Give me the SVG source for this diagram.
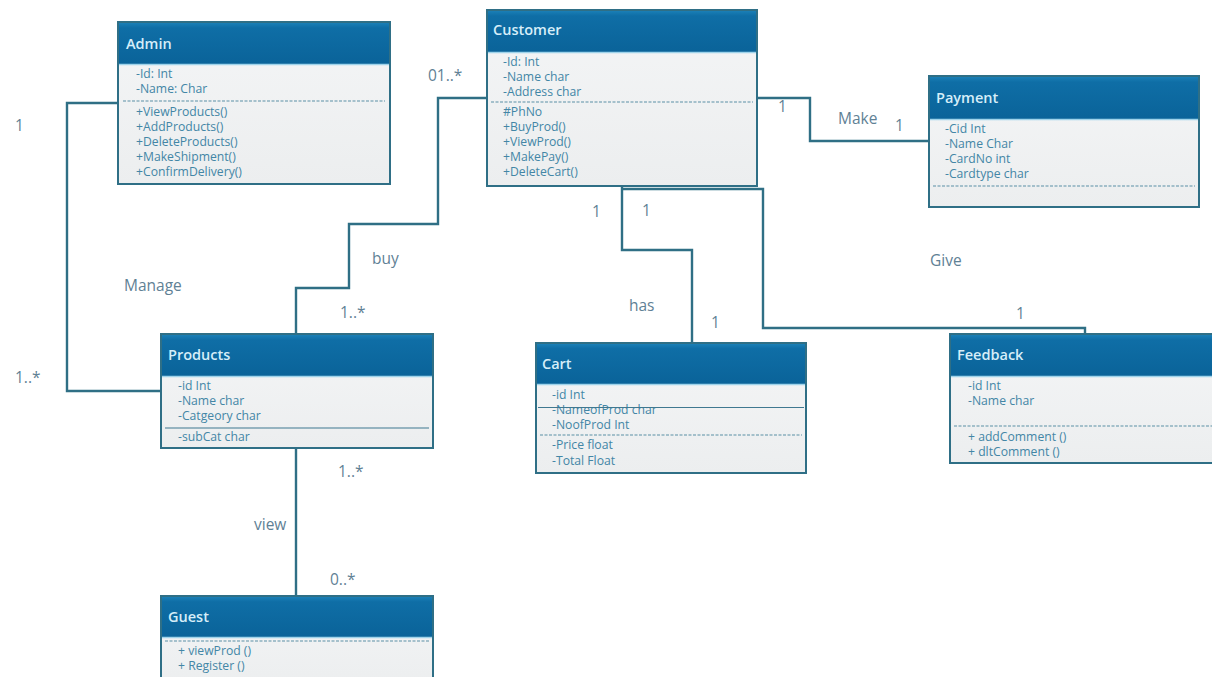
<svg xmlns="http://www.w3.org/2000/svg" width="1212" height="677" viewBox="0 0 1212 677">
  <defs>
    <linearGradient id="hdr" x1="0" y1="0" x2="0" y2="1">
      <stop offset="0" stop-color="#1a7fb6"/>
      <stop offset="0.12" stop-color="#0f6ea6"/>
      <stop offset="1" stop-color="#0a6399"/>
    </linearGradient>
    <linearGradient id="bdy" x1="0" y1="0" x2="0" y2="1">
      <stop offset="0" stop-color="#f4f5f6"/>
      <stop offset="1" stop-color="#eceeef"/>
    </linearGradient>
  </defs>
  <style>
    .box { fill: url(#bdy); stroke: #2f6f86; stroke-width: 2; }
    .head { fill: url(#hdr); }
    .hline { stroke: #9fd3ea; stroke-width: 1.5; }
    .title { font-family: "Open Sans", "Liberation Sans", sans-serif; font-size: 14.5px; font-weight: 600; fill: #d6eef9; }
    .item { font-family: "Open Sans", "Liberation Sans", sans-serif; font-size: 12.2px; fill: #4386a6; }
    .dash { stroke: #5b8fa5; stroke-width: 1.2; stroke-dasharray: 3 1.5; }
    .solid { stroke: #3f7890; stroke-width: 1.2; }
    .conn { fill: none; stroke: #2f6f85; stroke-width: 2.4; }
    .lbl { font-family: "Open Sans", "Liberation Sans", sans-serif; font-size: 15.5px; fill: #5f8195; }
  </style>

  <!-- associations -->
  <g id="connectors">
    <path class="conn" d="M118 103 H67 V391 H161"/>
    <path class="conn" d="M487 98 H438 V224 H349 V288 H296 V334"/>
    <path class="conn" d="M757 98 H810 V141 H929"/>
    <path class="conn" d="M622 186 V250 H692 V343"/>
    <path class="conn" d="M622 189 H763 V328 H1085 V334"/>
    <path class="conn" d="M296 448 V596"/>
  </g>

  <g id="labels">
    <text class="lbl" x="15" y="131">1</text>
    <text class="lbl" x="15" y="383">1..*</text>
    <text class="lbl" x="124" y="291">Manage</text>
    <text class="lbl" x="428" y="81">01..*</text>
    <text class="lbl" x="372" y="264">buy</text>
    <text class="lbl" x="340" y="318">1..*</text>
    <text class="lbl" x="778" y="112">1</text>
    <text class="lbl" x="838" y="124">Make</text>
    <text class="lbl" x="895" y="131">1</text>
    <text class="lbl" x="592" y="217">1</text>
    <text class="lbl" x="642" y="216">1</text>
    <text class="lbl" x="629" y="311">has</text>
    <text class="lbl" x="711" y="328">1</text>
    <text class="lbl" x="930" y="266">Give</text>
    <text class="lbl" x="1016" y="319">1</text>
    <text class="lbl" x="338" y="477">1..*</text>
    <text class="lbl" x="254" y="530">view</text>
    <text class="lbl" x="330" y="585">0..*</text>
  </g>

  <g id="admin">
    <rect class="box" x="118" y="22" width="272" height="162"/>
    <rect class="head" x="119" y="23" width="270" height="41"/>
    <line class="hline" x1="119" y1="64.5" x2="389" y2="64.5"/>
    <text class="title" x="126" y="49">Admin</text>
    <text class="item" x="136" y="78">-Id: Int</text>
    <text class="item" x="136" y="93">-Name: Char</text>
    <line class="dash" x1="123" y1="101" x2="385" y2="101"/>
    <text class="item" x="136" y="116">+ViewProducts()</text>
    <text class="item" x="136" y="131">+AddProducts()</text>
    <text class="item" x="136" y="146">+DeleteProducts()</text>
    <text class="item" x="136" y="161">+MakeShipment()</text>
    <text class="item" x="136" y="176">+ConfirmDelivery()</text>
  </g>

  <g id="customer">
    <rect class="box" x="487" y="10" width="270" height="176"/>
    <rect class="head" x="488" y="11" width="268" height="41"/>
    <line class="hline" x1="488" y1="52.5" x2="756" y2="52.5"/>
    <text class="title" x="493" y="35">Customer</text>
    <text class="item" x="503" y="66">-Id: Int</text>
    <text class="item" x="503" y="81">-Name char</text>
    <text class="item" x="503" y="96">-Address char</text>
    <line class="dash" x1="491" y1="102" x2="753" y2="102"/>
    <text class="item" x="503" y="116">#PhNo</text>
    <text class="item" x="503" y="131">+BuyProd()</text>
    <text class="item" x="503" y="146">+ViewProd()</text>
    <text class="item" x="503" y="161">+MakePay()</text>
    <text class="item" x="503" y="176">+DeleteCart()</text>
  </g>

  <g id="payment">
    <rect class="box" x="929" y="76" width="270" height="131"/>
    <rect class="head" x="930" y="77" width="268" height="42"/>
    <line class="hline" x1="930" y1="119.5" x2="1198" y2="119.5"/>
    <text class="title" x="936" y="103">Payment</text>
    <text class="item" x="945" y="133">-Cid Int</text>
    <text class="item" x="945" y="148">-Name Char</text>
    <text class="item" x="945" y="163">-CardNo int</text>
    <text class="item" x="945" y="178">-Cardtype char</text>
    <line class="dash" x1="933" y1="186" x2="1195" y2="186"/>
  </g>

  <g id="products">
    <rect class="box" x="161" y="334" width="272" height="114"/>
    <rect class="head" x="162" y="335" width="270" height="41"/>
    <line class="hline" x1="162" y1="376.5" x2="432" y2="376.5"/>
    <text class="title" x="168" y="360">Products</text>
    <text class="item" x="178" y="390">-id Int</text>
    <text class="item" x="178" y="405">-Name char</text>
    <text class="item" x="178" y="420">-Catgeory char</text>
    <line class="solid" x1="165" y1="428" x2="429" y2="428"/>
    <text class="item" x="178" y="441">-subCat char</text>
  </g>

  <g id="cart">
    <rect class="box" x="536" y="343" width="270" height="130"/>
    <rect class="head" x="537" y="344" width="268" height="40"/>
    <line class="hline" x1="537" y1="384.5" x2="805" y2="384.5"/>
    <text class="title" x="542" y="369">Cart</text>
    <text class="item" x="552" y="399">-id Int</text>
    <text class="item" x="552" y="414">-NameofProd char</text>
    <line class="solid" x1="538" y1="407.5" x2="804" y2="407.5"/>
    <text class="item" x="552" y="429">-NoofProd Int</text>
    <line class="dash" x1="540" y1="435" x2="802" y2="435"/>
    <text class="item" x="552" y="449">-Price float</text>
    <text class="item" x="552" y="465">-Total Float</text>
  </g>

  <g id="feedback">
    <rect class="box" x="950" y="334" width="270" height="129"/>
    <rect class="head" x="951" y="335" width="268" height="41"/>
    <line class="hline" x1="951" y1="376.5" x2="1212" y2="376.5"/>
    <text class="title" x="957" y="360">Feedback</text>
    <text class="item" x="968" y="390">-id Int</text>
    <text class="item" x="968" y="405">-Name char</text>
    <line class="dash" x1="954" y1="426" x2="1212" y2="426"/>
    <text class="item" x="968" y="441">+ addComment ()</text>
    <text class="item" x="968" y="456">+ dltComment ()</text>
  </g>

  <g id="guest">
    <rect class="box" x="161" y="596" width="272" height="90"/>
    <rect class="head" x="162" y="597" width="270" height="40"/>
    <line class="hline" x1="162" y1="637.5" x2="432" y2="637.5"/>
    <text class="title" x="168" y="622">Guest</text>
    <line class="dash" x1="165" y1="641" x2="429" y2="641"/>
    <text class="item" x="178" y="655">+ viewProd ()</text>
    <text class="item" x="178" y="670">+ Register ()</text>
  </g>
</svg>
